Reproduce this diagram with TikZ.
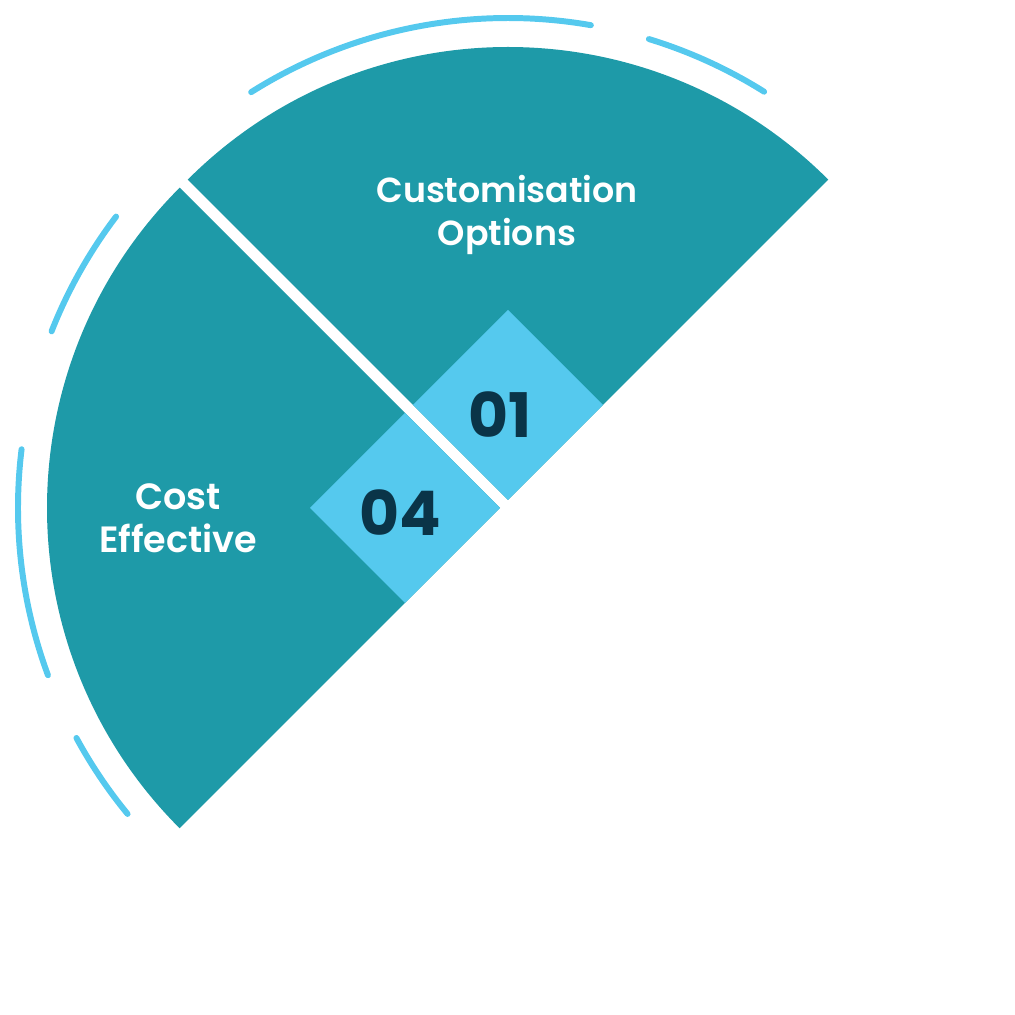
\documentclass[tikz,border=0pt]{standalone}
\usepackage{fontspec}
\setmainfont{Poppins}
\newfontfamily\semibold{Poppins SemiBold}
\usepackage{xcolor}
\usetikzlibrary{positioning,calc}

\definecolor{sectorteal}{HTML}{1E9AA8}
\definecolor{tilesky}{HTML}{55C9EE}
\definecolor{numnavy}{HTML}{0A3448}

\tikzset{
  ringarc/.style={draw=tilesky,line width=3.4pt,line cap=round},
  caption/.style={text=white,font=\semibold\fontsize{19.8}{24.6}\selectfont,align=center,inner sep=0pt},
  tilenum/.style={text=numnavy,font=\bfseries\fontsize{35}{40}\selectfont,inner sep=0pt}
}

\begin{document}
\begin{tikzpicture}[x=0.02cm,y=0.02cm]
  \def\R{453}
  \def\r{482}
  \def\t{134.35}
  \useasboundingbox (0,0) rectangle (1015,1015);

  % centres of the two quarters
  \coordinate (c1) at (508,515);
  \coordinate (c2) at (500,507);

  % quarter sectors
  \fill[sectorteal] (c1) -- ++(45:\R) arc[start angle=45,end angle=135,radius=\R] -- cycle;
  \fill[sectorteal] (c2) -- ++(135:\R) arc[start angle=135,end angle=225,radius=\R] -- cycle;

  % number tiles
  \fill[tilesky] (c1) -- ++(45:\t) -- ++(135:\t) -- ++(225:\t) -- cycle;
  \fill[tilesky] (c2) -- ++(135:\t) -- ++(225:\t) -- ++(315:\t) -- cycle;

  % outer ring pieces
  \foreach \a/\b in {122.2/80.1,73.0/57.9} {
    \draw[ringarc] ($(c1)+(\a:\r)$) arc[start angle=\a,end angle=\b,radius=\r];
  }
  \foreach \a/\b in {142.8/158.5,173.0/200.3,208.5/219.4} {
    \draw[ringarc] ($(c2)+(\a:\r)$) arc[start angle=\a,end angle=\b,radius=\r];
  }

  % texts
  \node[caption] (custom) at (507,800) {Customisation\\Options};
  \node[caption,font=\semibold\fontsize{20.8}{24.6}\selectfont] (cost) at (178,497) {Cost\\Effective};
  \node[tilenum] (n01) at (500,600) {01};
  \node[tilenum] (n04) at (400,502) {04};
\end{tikzpicture}
\end{document}
